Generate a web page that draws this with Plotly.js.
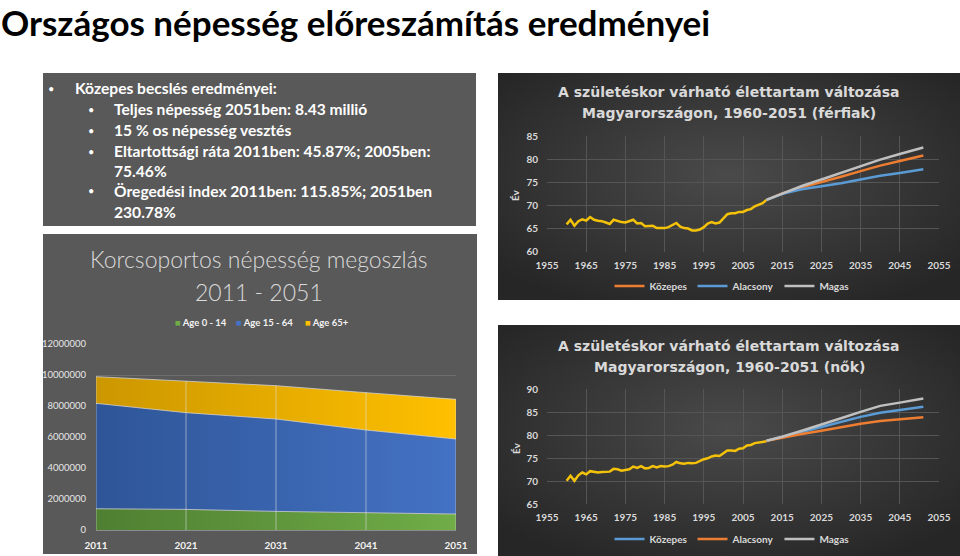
<!DOCTYPE html>
<html>
<head>
<meta charset="utf-8">
<script src="https://cdn.plot.ly/plotly-3.0.1.min.js"></script>
<style>html,body{margin:0;padding:0;background:#fff;}#chart{width:960px;height:556px;}</style>
</head>
<body>
<div id="chart"></div>
<script>
// ---------- DATA ----------
const pageTitle = "Országos népesség előreszámítás eredményei";
const summaryLines = [
  "Közepes becslés eredményei:",
  "Teljes népesség 2051ben: 8.43 millió",
  "15 % os népesség vesztés",
  "Eltartottsági ráta 2011ben: 45.87%; 2005ben:",
  "75.46%",
  "Öregedési index 2011ben: 115.85%; 2051ben",
  "230.78%"
];

// Age-group area chart
const ageYears = [2011, 2021, 2031, 2041, 2051];
const age0_14  = [1370000, 1330000, 1200000, 1100000, 1030000];
const age15_64 = [6800000, 6240000, 5960000, 5350000, 4840000];
const age65p   = [1720000, 2040000, 2150000, 2410000, 2560000];
const ageNames = ["Age 0 - 14", "Age 15 - 64", "Age 65+"];

// Life expectancy history 1960-2011
const histYears = [1960,1961,1962,1963,1964,1965,1966,1967,1968,1969,1970,1971,1972,1973,1974,1975,1976,1977,1978,1979,
  1980,1981,1982,1983,1984,1985,1986,1987,1988,1989,1990,1991,1992,1993,1994,1995,1996,1997,1998,1999,
  2000,2001,2002,2003,2004,2005,2006,2007,2008,2009,2010,2011];
const maleHist = [65.9,66.9,65.6,66.6,67.0,66.7,67.5,66.9,66.7,66.6,66.3,66.0,66.9,66.6,66.4,66.3,66.6,66.9,66.1,66.2,
  65.5,65.5,65.6,65.1,65.1,65.1,65.3,65.7,66.2,65.4,65.1,65.0,64.6,64.6,64.8,65.3,66.1,66.4,66.1,66.3,
  67.1,68.1,68.3,68.3,68.6,68.6,69.0,69.2,69.8,70.1,70.5,71.2];
const femaleHist = [70.1,71.2,70.1,71.3,71.9,71.5,72.2,72.0,71.9,72.0,72.1,72.1,72.7,72.6,72.3,72.4,72.6,73.2,72.9,73.3,
  72.8,72.9,73.3,73.0,73.3,73.2,73.3,73.6,74.2,73.9,73.8,74.0,73.9,74.0,74.4,74.8,75.0,75.4,75.6,75.5,
  76.1,76.7,76.7,76.6,77.1,77.2,77.8,77.9,78.3,78.4,78.6,78.7];

// Projections 2011-2051
const projYears = [2011, 2015, 2020, 2025, 2030, 2035, 2040, 2045, 2051];
const maleKozepes  = [71.2, 72.6, 73.9, 75.0, 76.2, 77.4, 78.6, 79.6, 80.8];
const maleAlacsony = [71.2, 72.5, 73.5, 74.1, 74.8, 75.6, 76.4, 77.0, 77.8];
const maleMagas    = [71.2, 72.6, 74.2, 75.6, 77.0, 78.5, 79.9, 81.1, 82.5];
const femKozepes   = [78.8, 79.6, 80.7, 81.8, 82.9, 84.0, 84.9, 85.5, 86.2];
const femAlacsony  = [78.8, 79.5, 80.3, 81.0, 81.8, 82.5, 83.1, 83.5, 83.9];
const femMagas     = [78.8, 79.7, 81.0, 82.3, 83.7, 85.1, 86.4, 87.1, 88.0];
const scenarioNames = ["Közepes", "Alacsony", "Magas"];

const leTitleMale = ["A születéskor várható élettartam változása", "Magyarországon, 1960-2051 (férfiak)"];
const leTitleFem  = ["A születéskor várható élettartam változása", "Magyarországon, 1960-2051 (nők)"];
const areaTitle = ["Korcsoportos népesség megoszlás", "2011 - 2051"];
const axisTitleLE = "Év";

// ---------- helpers ----------
const W = 960, H = 556;
const px = x => x / W;
const py = y => 1 - y / H;
const LATO = "Lato, 'Liberation Sans', sans-serif";
const DJ = "'DejaVu Sans', sans-serif";
const ORANGE = "#ed7d31", BLUE = "#5b9bd5", GRAY = "#c0c0c0", GOLD = "#f5c20a";

function radialBg(w, h) {
  const svg = `<svg xmlns='http://www.w3.org/2000/svg' width='${w}' height='${h}' viewBox='0 0 ${w} ${h}' preserveAspectRatio='none'>` +
    `<defs><radialGradient id='g' cx='50%' cy='45%' r='65%'>` +
    `<stop offset='0' stop-color='#4a4a4a'/><stop offset='1' stop-color='#262626'/></radialGradient></defs>` +
    `<rect width='${w}' height='${h}' fill='url(#g)'/></svg>`;
  return "data:image/svg+xml;charset=utf-8," + encodeURIComponent(svg);
}

// ---------- traces ----------
const traces = [];
const ageSeries = [age0_14, age15_64, age65p];
const ageGrad = [
  ["#4f7f32", "#70ad47"],
  ["#2e5597", "#4472c4"],
  ["#cc9700", "#ffc000"]
];
ageSeries.forEach((s, i) => {
  traces.push({
    type: "scatter", mode: "lines", x: ageYears, y: s, name: ageNames[i],
    stackgroup: "age", xaxis: "x", yaxis: "y", showlegend: false,
    line: {color: "rgba(215,215,215,0.75)", width: 1},
    fillcolor: ageGrad[i][1],
    fillgradient: {type: "horizontal", colorscale: [[0, ageGrad[i][0]], [1, ageGrad[i][1]]]},
    hoverinfo: "skip"
  });
});
// drop lines from the axis to each total
const dropX = [], dropY = [];
ageYears.forEach((yr, i) => {
  dropX.push(yr, yr, null);
  dropY.push(0, age0_14[i] + age15_64[i] + age65p[i], null);
});
traces.push({type: "scatter", mode: "lines", x: dropX, y: dropY, xaxis: "x", yaxis: "y",
  line: {color: "rgba(225,225,225,0.55)", width: 1}, showlegend: false, hoverinfo: "skip"});

// Male
traces.push({type: "scatter", mode: "lines", x: histYears, y: maleHist, xaxis: "x2", yaxis: "y2",
  line: {color: GOLD, width: 2.5}, showlegend: false, hoverinfo: "skip"});
[[maleKozepes, ORANGE], [maleAlacsony, BLUE], [maleMagas, GRAY]].forEach((d, i) => {
  traces.push({type: "scatter", mode: "lines", x: projYears, y: d[0], name: scenarioNames[i],
    xaxis: "x2", yaxis: "y2", legend: "legend2", line: {color: d[1], width: 2.5}, hoverinfo: "skip"});
});
// Female
traces.push({type: "scatter", mode: "lines", x: histYears, y: femaleHist, xaxis: "x3", yaxis: "y3",
  line: {color: GOLD, width: 2.5}, showlegend: false, hoverinfo: "skip"});
[[femKozepes, BLUE], [femAlacsony, ORANGE], [femMagas, GRAY]].forEach((d, i) => {
  traces.push({type: "scatter", mode: "lines", x: projYears, y: d[0], name: scenarioNames[i],
    xaxis: "x3", yaxis: "y3", legend: "legend3", line: {color: d[1], width: 2.5}, hoverinfo: "skip"});
});

// ---------- axes ----------
const leX = (anchor) => ({
  range: [1955, 2055], dtick: 10, tick0: 1955, showgrid: true, gridcolor: "#555555", gridwidth: 1,
  zeroline: false, showline: false, ticks: "", anchor: anchor, ticklabelstandoff: 6,
  tickfont: {family: LATO, size: 10, color: "#d9d9d9", weight: "bold"}, fixedrange: true
});
const leY = (range, anchor) => ({
  range: range, dtick: 5, showgrid: true, gridcolor: "#555555", gridwidth: 1, zeroline: false,
  showline: false, ticks: "", anchor: anchor, ticklabelstandoff: 8,
  tickfont: {family: LATO, size: 10, color: "#d9d9d9", weight: "bold"}, fixedrange: true
});

// ---------- annotations ----------
const ann = [];
ann.push({text: pageTitle, x: px(0), y: 1, xref: "paper", yref: "paper", xanchor: "left", yanchor: "top",
  borderpad: 0, showarrow: false, font: {family: LATO, size: 35, color: "#000", weight: "bold"}});
const lineYs = [88, 109, 130, 151, 171, 191, 212];
const lineX  = [73, 112, 112, 112, 112, 112, 112];
summaryLines.forEach((t, i) => {
  ann.push({text: t, x: px(lineX[i]), y: py(lineYs[i]), xref: "paper", yref: "paper", xanchor: "left", yanchor: "middle",
    showarrow: false, font: {family: LATO, size: 15.6, color: "#ffffff", weight: "bold"}});
});
const bullets = [[51, 88], [91, 109], [91, 130], [91, 151], [91, 191]];
bullets.forEach(b => ann.push({text: "•", x: px(b[0]), y: py(b[1]), xref: "paper", yref: "paper",
  xanchor: "center", yanchor: "middle", showarrow: false, font: {family: LATO, size: 11, color: "#fff"}}));

areaTitle.forEach((t, i) => ann.push({text: t, x: px(259), y: py([259, 292][i]), xref: "paper", yref: "paper",
  xanchor: "center", yanchor: "middle", showarrow: false, font: {family: LATO, size: 23, color: "#d9d9d9", weight: 300}}));

// legend for the area chart (compact, as in the original)
const ageLegX = [173, 234, 303];
const ageLegCol = ["#70ad47", "#4472c4", "#ffc000"];
ageNames.forEach((n, i) => ann.push({
  text: `<span style="color:${ageLegCol[i]}">■</span> ${n}`, x: px(ageLegX[i]), y: py(322), xref: "paper", yref: "paper",
  xanchor: "left", yanchor: "middle", showarrow: false, font: {family: LATO, size: 9.5, color: "#f2f2f2", weight: "bold"}}));

leTitleMale.forEach((t, i) => ann.push({text: t, x: px(729), y: py([92, 113][i]), xref: "paper", yref: "paper",
  xanchor: "center", yanchor: "middle", showarrow: false, font: {family: DJ, size: 14, color: "#d9d9d9", weight: "bold"}}));
leTitleFem.forEach((t, i) => ann.push({text: t, x: px(729), y: py([346, 367][i]), xref: "paper", yref: "paper",
  xanchor: "center", yanchor: "middle", showarrow: false, font: {family: DJ, size: 14, color: "#d9d9d9", weight: "bold"}}));
[[515, 195], [516, 448]].forEach(p => ann.push({text: axisTitleLE, x: px(p[0]), y: py(p[1]), xref: "paper", yref: "paper",
  xanchor: "center", yanchor: "middle", textangle: -90, showarrow: false,
  font: {family: LATO, size: 10, color: "#d9d9d9", weight: "bold"}}));

// ---------- layout ----------
const layout = {
  width: W, height: H, autosize: false,
  margin: {l: 0, r: 0, t: 0, b: 0, pad: 0},
  paper_bgcolor: "#ffffff", plot_bgcolor: "rgba(0,0,0,0)",
  showlegend: true,
  shapes: [
    {type: "rect", xref: "paper", yref: "paper", x0: px(43), x1: px(476), y0: py(226), y1: py(73),
      fillcolor: "#595959", line: {width: 0}, layer: "below"},
    {type: "rect", xref: "paper", yref: "paper", x0: px(43), x1: px(477), y0: py(554), y1: py(234),
      fillcolor: "#595959", line: {width: 0}, layer: "below"}
  ],
  images: [
    {source: radialBg(462, 227), xref: "paper", yref: "paper", x: px(498), y: py(73), sizex: 462 / W, sizey: 227 / H,
      xanchor: "left", yanchor: "top", sizing: "stretch", layer: "below"},
    {source: radialBg(462, 231), xref: "paper", yref: "paper", x: px(498), y: py(325), sizex: 462 / W, sizey: 231 / H,
      xanchor: "left", yanchor: "top", sizing: "stretch", layer: "below"}
  ],
  xaxis: {domain: [px(96), px(456)], range: [2011, 2051], tickvals: ageYears, anchor: "y",
    showgrid: false, zeroline: false, showline: true, linecolor: "#8c8c8c", linewidth: 1, ticks: "",
    ticklabelstandoff: 6, tickfont: {family: LATO, size: 10, color: "#f2f2f2", weight: "bold"}, fixedrange: true},
  yaxis: {domain: [py(530), py(344)], range: [0, 12000000], dtick: 2000000, tickformat: "d", anchor: "x",
    showgrid: true, gridcolor: "#6e6e6e", zeroline: false, showline: false, ticks: "", ticklabelstandoff: 9,
    tickfont: {family: LATO, size: 9.5, color: "#e6e6e6"}, fixedrange: true},
  xaxis2: Object.assign(leX("y2"), {domain: [px(547), px(939)]}),
  yaxis2: Object.assign(leY([60, 85], "x2"), {domain: [py(251.7), py(136)]}),
  xaxis3: Object.assign(leX("y3"), {domain: [px(547), px(939)]}),
  yaxis3: Object.assign(leY([65, 90], "x3"), {domain: [py(504.3), py(389.3)]}),
  legend2: {orientation: "h", x: px(732), y: py(286), xanchor: "center", yanchor: "middle", traceorder: "normal",
    bgcolor: "rgba(0,0,0,0)", font: {family: LATO, size: 10, color: "#d9d9d9", weight: "bold"}, itemwidth: 30},
  legend3: {orientation: "h", x: px(732), y: py(539), xanchor: "center", yanchor: "middle", traceorder: "normal",
    bgcolor: "rgba(0,0,0,0)", font: {family: LATO, size: 10, color: "#d9d9d9", weight: "bold"}, itemwidth: 30},
  annotations: ann
};

Plotly.newPlot("chart", traces, layout, {staticPlot: true, displayModeBar: false});
</script>
</body>
</html>
